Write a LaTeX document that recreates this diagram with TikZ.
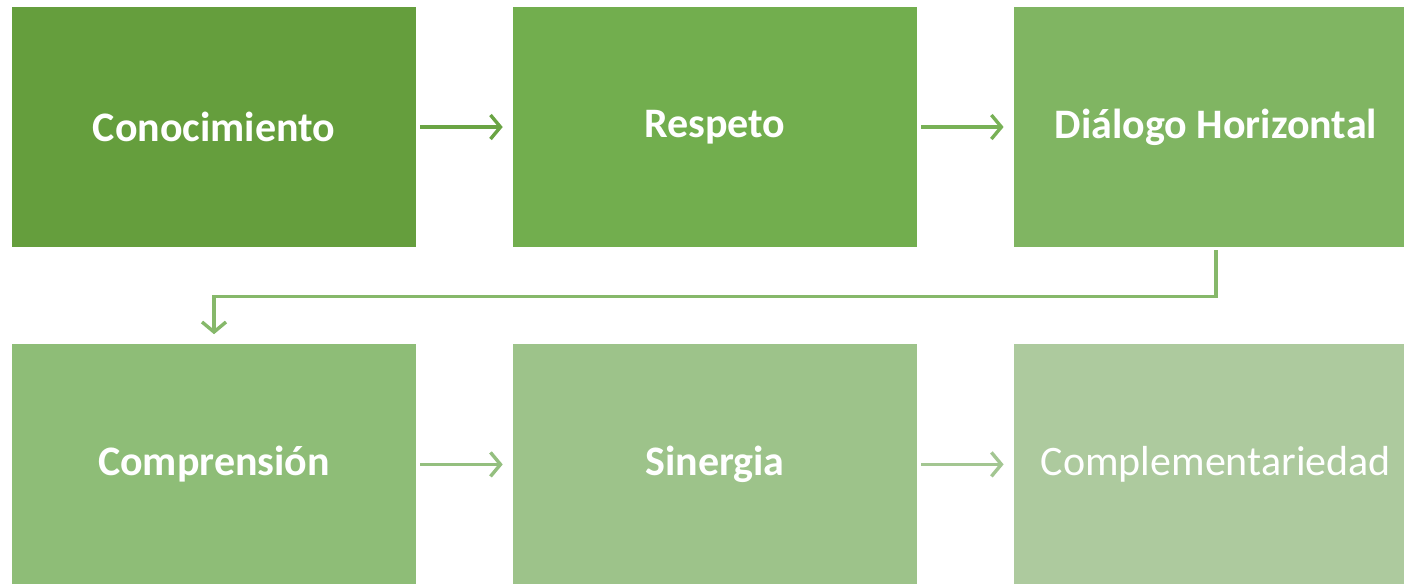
\documentclass[tikz,border=0pt]{standalone}
\usepackage{fontspec}
\setmainfont{Carlito}
\usetikzlibrary{positioning,arrows.meta}
\definecolor{verdeA}{HTML}{659E3D}
\definecolor{verdeB}{HTML}{72AE4E}
\definecolor{verdeC}{HTML}{80B562}
\definecolor{verdeD}{HTML}{8EBD77}
\definecolor{verdeE}{HTML}{9DC38A}
\definecolor{verdeF}{HTML}{ADCA9E}
\tikzset{
	paso/.style={rectangle, minimum width=404pt, minimum height=240pt, inner sep=0pt, text=white,
		font=\fontsize{42}{50}\selectfont\bfseries},
	flecha/.style={-{Straight Barb[length=10pt,width=24pt]}, line width=3.4pt, shorten <=4pt, shorten >=10pt},
}

\begin{document}
\begin{tikzpicture}[node distance=96.5pt]
			\useasboundingbox (0,0) rectangle (1404pt,-584pt);
			\node[paso, fill=verdeA] (conoc) at (214pt,-127pt) {Conocimiento};
			\node[paso, fill=verdeB, right=of conoc] (respeto) {Respeto};
			\node[paso, fill=verdeC, right=of respeto] (dialogo) {Diálogo Horizontal};
			\node[paso, fill=verdeD, below=97pt of conoc] (compr) {Comprensión};
			\node[paso, fill=verdeE, right=of compr] (sinergia) {Sinergia};
			\node[paso, fill=verdeF, right=of sinergia, font=\fontsize{42}{50}\selectfont] (complem) {Complementariedad};

			\draw[flecha, draw=verdeA!60!verdeB] (conoc) -- (respeto);
			\draw[flecha, draw=verdeB!60!verdeC] (respeto) -- (dialogo);
			\draw[flecha, draw=verdeC!60!verdeD, shorten <=3pt] (dialogo.south) -- ++(0,-49pt) -| (compr.north);
			\draw[flecha, draw=verdeD!60!verdeE] (compr) -- (sinergia);
			\draw[flecha, draw=verdeE!60!verdeF] (sinergia) -- (complem);
		\end{tikzpicture}
\end{document}
